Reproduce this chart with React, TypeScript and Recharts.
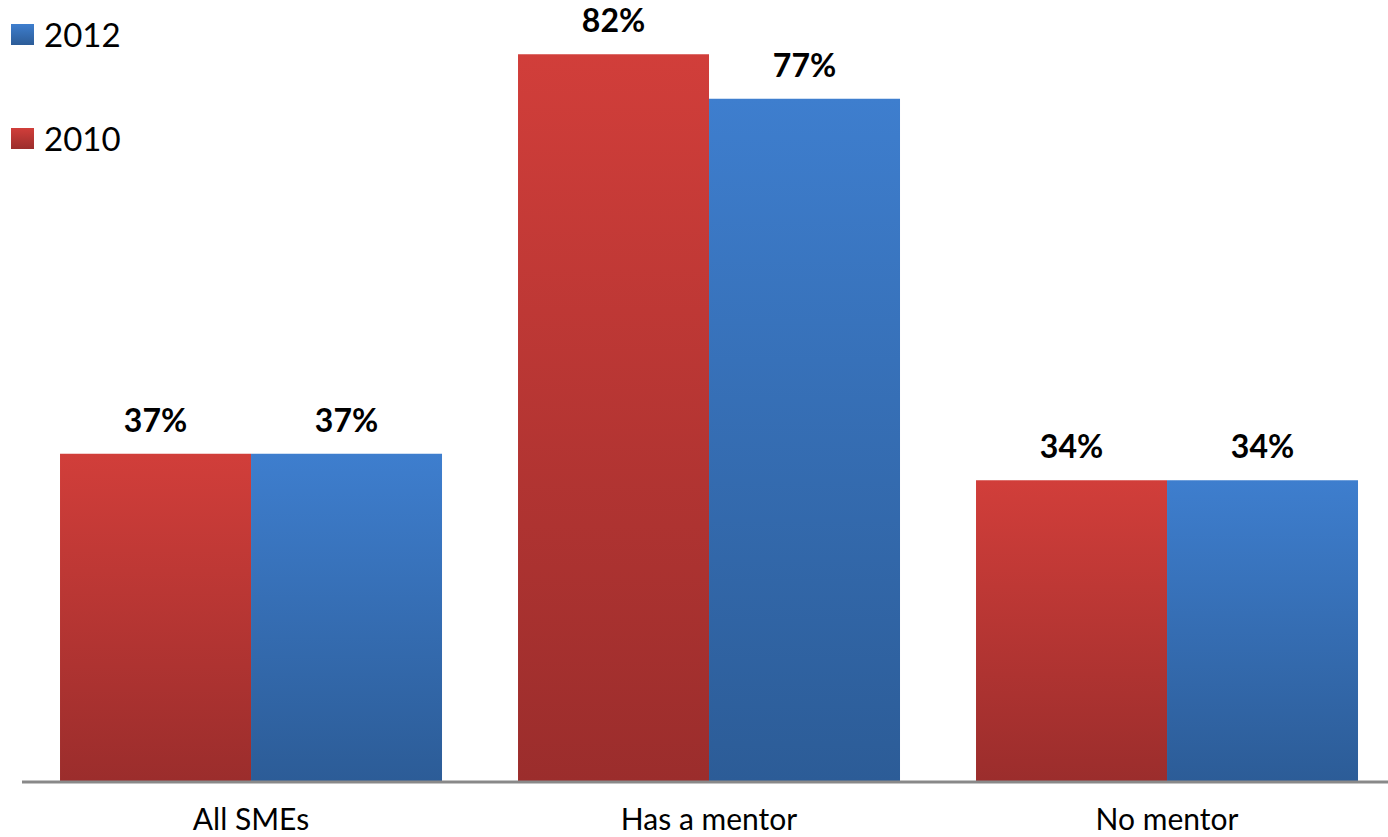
import React from "react";
import { BarChart, Bar, XAxis, YAxis, LabelList } from "recharts";

const categories = ["All SMEs", "Has a mentor", "No mentor"];
const values2010 = [37, 82, 34];
const values2012 = [37, 77, 34];
const legendItems = [
  { label: "2012", top: "#3E7ECE", bottom: "#2C5C97" },
  { label: "2010", top: "#D13E3A", bottom: "#9B2D2C" },
];

const data = categories.map((c, i) => ({ name: c, y2010: values2010[i], y2012: values2012[i] }));

const FONT = "Lato, 'Open Sans', sans-serif";

const LegendOverlay = () => (
  <div style={{ fontFamily: FONT, position: "absolute", left: 0, top: 0 }}>
    {legendItems.map((it, i) => (
      <div
        key={it.label}
        style={{ position: "absolute", left: 11, top: 24 + i * 104, display: "flex", alignItems: "center", whiteSpace: "nowrap" }}
      >
        <div style={{ width: 23, height: 21, background: `linear-gradient(${it.top}, ${it.bottom})` }} />
        <span style={{ fontSize: 33, color: "#000", marginLeft: 10, lineHeight: "21px" }}>{it.label}</span>
      </div>
    ))}
  </div>
);

const Tick = (props: any) => {
  const { x, y, payload } = props;
  return (
    <text x={x} y={y + 48} textAnchor="middle" fontSize={30} fontFamily={FONT} fill="#000">
      {payload.value}
    </text>
  );
};

const labelStyle = { fontSize: 32, fontWeight: 700, fontFamily: FONT, fill: "#000" };

export default function App() {
  return (
    <div style={{ position: "absolute", left: 0, top: 0, width: 1388, height: 837, overflow: "hidden", background: "#fff" }}>
      <BarChart
        width={1400}
        height={837}
        data={data}
        margin={{ top: 1, right: 4, bottom: 0, left: 22 }}
        barCategoryGap="8.3%"
        barGap={0}
      >
        <defs>
          <linearGradient id="gRed" x1="0" y1="0" x2="0" y2="1">
            <stop offset="0%" stopColor="#D13E3A" />
            <stop offset="100%" stopColor="#9B2D2C" />
          </linearGradient>
          <linearGradient id="gBlue" x1="0" y1="0" x2="0" y2="1">
            <stop offset="0%" stopColor="#3E7ECE" />
            <stop offset="100%" stopColor="#2C5C97" />
          </linearGradient>
        </defs>
        <XAxis
          dataKey="name"
          height={55}
          tickLine={false}
          tickSize={0}
          tickMargin={0}
          axisLine={{ stroke: "#898989", strokeWidth: 3 }}
          tick={<Tick />}
          interval={0}
        />
        <YAxis hide domain={[0, 88]} width={0} />
        <Bar dataKey="y2010" name="2010" fill="url(#gRed)" isAnimationActive={false}>
          <LabelList dataKey="y2010" position="top" offset={22} formatter={(v: any) => `${v}%`} style={labelStyle} />
        </Bar>
        <Bar dataKey="y2012" name="2012" fill="url(#gBlue)" isAnimationActive={false}>
          <LabelList dataKey="y2012" position="top" offset={22} formatter={(v: any) => `${v}%`} style={labelStyle} />
        </Bar>
      </BarChart>
      <LegendOverlay />
    </div>
  );
}
